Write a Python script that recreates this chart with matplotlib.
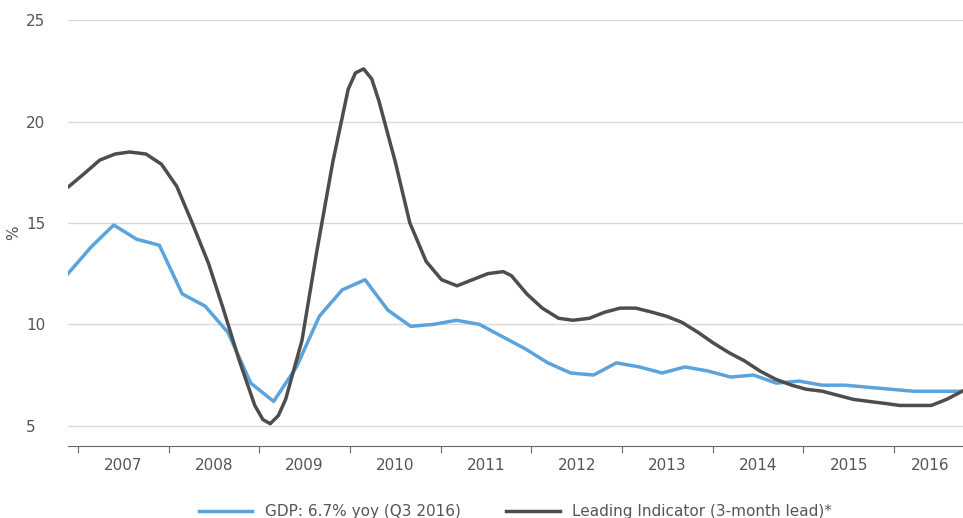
import numpy as np
import matplotlib.pyplot as plt
from matplotlib.ticker import FixedLocator

gdp_start = 2006.89
gdp = [12.5, 13.8, 14.9, 14.2, 13.9, 11.5, 10.9, 9.6, 7.1, 6.2, 7.9, 10.4, 11.7, 12.2,
       10.7, 9.9, 10.0, 10.2, 10.0, 9.4, 8.8, 8.1, 7.6, 7.5, 8.1, 7.9, 7.6, 7.9, 7.7,
       7.4, 7.5, 7.1, 7.2, 7.0, 7.0, 6.9, 6.8, 6.7, 6.7, 6.7]
gdp_x = gdp_start + 0.252 * np.arange(len(gdp))

lead_x = [2006.90, 2007.06, 2007.24, 2007.41, 2007.57, 2007.75, 2007.92, 2008.09, 2008.26,
          2008.44, 2008.60, 2008.78, 2008.95, 2009.04, 2009.12, 2009.21, 2009.29, 2009.47,
          2009.63, 2009.81, 2009.98, 2010.06, 2010.15, 2010.24, 2010.32, 2010.50, 2010.66,
          2010.84, 2011.01, 2011.18, 2011.35, 2011.52, 2011.69, 2011.78, 2011.95, 2012.12,
          2012.30, 2012.46, 2012.64, 2012.81, 2012.98, 2013.15, 2013.33, 2013.49, 2013.66,
          2013.84, 2014.00, 2014.18, 2014.35, 2014.52, 2014.69, 2014.87, 2015.03, 2015.21,
          2015.38, 2015.55, 2015.72, 2015.90, 2016.06, 2016.24, 2016.41, 2016.58, 2016.75]
lead = [16.8, 17.4, 18.1, 18.4, 18.5, 18.4, 17.9, 16.8, 15.0, 13.0, 10.8, 8.2, 6.0, 5.3,
        5.1, 5.5, 6.3, 9.2, 13.5, 18.0, 21.6, 22.4, 22.6, 22.1, 21.0, 18.0, 15.0, 13.1,
        12.2, 11.9, 12.2, 12.5, 12.6, 12.4, 11.5, 10.8, 10.3, 10.2, 10.3, 10.6, 10.8,
        10.8, 10.6, 10.4, 10.1, 9.6, 9.1, 8.6, 8.2, 7.7, 7.3, 7.0, 6.8, 6.7, 6.5, 6.3,
        6.2, 6.1, 6.0, 6.0, 6.0, 6.3, 6.7]

years = list(range(2007, 2017))
label_pos = [y + 0.5 for y in years[:-1]] + [2016.4]

fig = plt.figure(figsize=(9.63, 5.18), dpi=100)
ax = fig.add_axes([0.0706, 0.139, 0.9294, 0.822])

ax.plot(gdp_x, gdp, color='#5ba3dc', lw=2.5, label='GDP: 6.7% yoy (Q3 2016)')
ax.plot(lead_x, lead, color='#4d4d4d', lw=2.5, label='Leading Indicator (3-month lead)*')

ax.set_xlim(2006.89, 2016.76)
ax.set_ylim(4, 25)
ax.set_yticks([5, 10, 15, 20, 25])
ax.yaxis.grid(True, color='#d9d9d9', lw=1)
ax.set_axisbelow(True)
ax.set_ylabel('%', color='#555555', fontsize=11)

ax.xaxis.set_major_locator(FixedLocator(years))
ax.xaxis.set_minor_locator(FixedLocator(label_pos))
ax.set_xticklabels([])
ax.set_xticklabels([str(y) for y in years], minor=True)
ax.tick_params(axis='x', which='major', length=5, color='#666666')
ax.tick_params(axis='x', which='minor', length=0, labelsize=11, labelcolor='#555555', pad=9)
ax.tick_params(axis='y', length=0, labelsize=11, labelcolor='#555555', pad=30)
for lab in ax.get_yticklabels():
    lab.set_horizontalalignment('left')

for s in ['top', 'right', 'left']:
    ax.spines[s].set_visible(False)
ax.spines['bottom'].set_color('#666666')

ax.legend(loc='center', bbox_to_anchor=(0.5, -0.155), ncol=2, frameon=False,
          fontsize=11, labelcolor='#555555', handlelength=3.5, columnspacing=3)

fig.savefig('out.png', dpi=100)
